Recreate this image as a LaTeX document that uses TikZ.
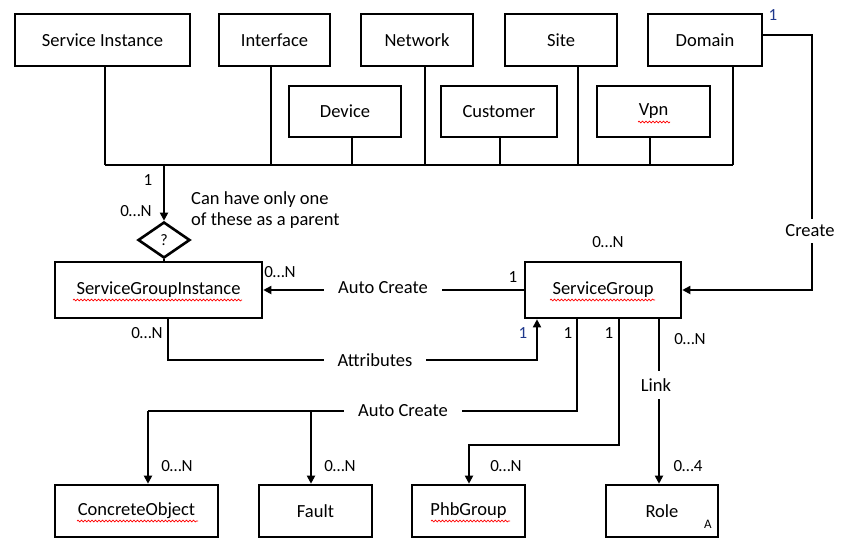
\documentclass[tikz,border=0pt]{standalone}
\usepackage{fontspec}
\setmainfont{Carlito}
\usetikzlibrary{shapes.geometric,arrows.meta,decorations.pathmorphing}
\begin{document}
\begin{tikzpicture}[x=1pt,y=-1pt,
  box/.style={draw,line width=2.6pt,fill=white,inner sep=0},
  ln/.style={line width=1.8pt},
  arr/.style={ln,-{Triangle[length=8pt,width=8pt]}},
  lab/.style={font=\fontsize{18.5}{21}\selectfont,fill=white,inner sep=2pt},
  clab/.style={lab,inner xsep=14pt},
  num/.style={font=\fontsize{17}{19}\selectfont,inner sep=0},
  bnum/.style={num,text={rgb,255:red,31;green,56;blue,140}},
  wavy/.style={draw=red,line width=0.7pt,decorate,decoration={snake,amplitude=0.9pt,segment length=3.5pt}}]
\useasboundingbox (0,0) rectangle (844,550);
\newcommand{\bx}[5]{\node[box,minimum width=#4-#2,minimum height=#5-#3] (#1) at ({(#2+#4)/2},{(#3+#5)/2}) {};}
\bx{si}{15}{14}{190}{66}\node[lab,fill=none] at (si) {Service Instance};
\bx{if}{219}{14}{330}{66}\node[lab,fill=none] at (if) {Interface};
\bx{nw}{361}{14}{473}{66}\node[lab,fill=none] at (nw) {Network};
\bx{st}{505}{14}{617}{66}\node[lab,fill=none] at (st) {Site};
\bx{dm}{648}{14}{762}{66}\node[lab,fill=none] at (dm) {Domain};
\bx{dv}{289}{86}{401}{137}\node[lab,fill=none] at (dv) {Device};
\bx{cu}{441}{86}{557}{137}\node[lab,fill=none] at (cu) {Customer};
\bx{vp}{597}{86}{710}{137}\node[lab,fill=none] at (vp) {Vpn};
\bx{sgi}{55}{262}{262}{318}\node[lab,fill=none] at (sgi) {ServiceGroupInstance};
\bx{sg}{525}{262}{681}{318}\node[lab,fill=none] at (sg) {ServiceGroup};
\bx{co}{55}{485}{218}{537}\node[lab,fill=none] at (co) {ConcreteObject};
\bx{fa}{259}{485}{372}{537}\node[lab,fill=none] at (fa) {Fault};
\bx{pg}{412}{485}{525}{537}\node[lab,fill=none] at (pg) {PhbGroup};
\bx{ro}{606}{485}{718}{537}\node[lab,fill=none] at (ro) {Role};
\node[num,font=\fontsize{13}{14}\selectfont] (a) at (708,524) {A};
% wavy underlines
\path[wavy] (638,122)--(670,122);
\path[wavy] (73,300)--(242,300);
\path[wavy] (550,300)--(655,300);
\path[wavy] (77,521)--(198,521);
\path[wavy] (431,521)--(510,521);
% bus
\coordinate (b0) at (105,165); \coordinate (b1) at (733,165);
\draw[ln] (b0)--(b1);
\draw[ln] (si.south -| b0)--(b0);
\foreach \n/\x in {if/271,nw/425,st/578,dm/733,dv/352,cu/500,vp/650}
  \draw[ln] (\n.south -| \x,0)--(\x,165);
\node[draw,diamond,line width=2.6pt,fill=white,minimum width=52pt,minimum height=36pt,inner sep=0,font=\fontsize{16}{18}\selectfont] (dia) at (164,240) {?};
\draw[arr] (164,165)--(dia.north);
\draw[ln] (dia.south)--(sgi.north -| dia.south);
\node[num] (n1) at (148,180) {1};
\node[num] (n2) at (136,211) {0…N};
\node[lab,fill=none,align=left,anchor=west,inner sep=0] (can) at (191,210) {Can have only one\\of these as a parent};
% Domain to SG
\coordinate (d1) at (812,35); \coordinate (d2) at (812,290);
\draw[arr] (dm.east |- d1)--(d1)--(d2)--(sg.east |- d2);
\node[lab,inner ysep=6pt] (cr) at (810,231) {Create};
\node[bnum] (n3) at (773,15) {1};
% Auto Create
\draw[arr] (sg.west |- 0,290)--(sgi.east |- 0,290);
\node[clab] (ac) at (383,288) {Auto Create};
\node[num] (n4) at (513,277) {1};
\node[num] (n5) at (280,272) {0…N};
\node[num] (n6) at (608,242) {0…N};
% Attributes
\coordinate (t1) at (168,360); \coordinate (t2) at (537,360);
\draw[arr] (sgi.south -| t1)--(t1)--(t2)--(sg.south -| t2);
\node[clab] (at) at (375,360) {Attributes};
\node[num] (n7) at (147,333) {0…N};
\node[bnum] (n8) at (523,333) {1};
% Auto Create bottom
\coordinate (u1) at (577,411); \coordinate (u2) at (148,411); \coordinate (u3) at (311,411);
\draw[ln] (sg.south -| u1)--(u1)--(u2);
\draw[arr] (u2)--(co.north -| u2);
\draw[arr] (u3)--(fa.north -| u3);
\node[clab] (ac2) at (403,411) {Auto Create};
\node[num] (n9) at (568,333) {1};
\node[num] (n10) at (177,466) {0…N};
\node[num] (n11) at (340,466) {0…N};
% PhbGroup
\coordinate (p1) at (619,445); \coordinate (p2) at (469,445);
\draw[arr] (sg.south -| p1)--(p1)--(p2)--(pg.north -| p2);
\node[num] (n12) at (609,333) {1};
\node[num] (n13) at (506,466) {0…N};
% Link
\coordinate (l1) at (659,485);
\draw[arr] (sg.south -| l1)--(ro.north -| l1);
\node[lab,inner ysep=8pt] (lk) at (656,385) {Link};
\node[num] (n14) at (690,339) {0…N};
\node[num] (n15) at (688,466) {0…4};
\end{tikzpicture}
\end{document}
